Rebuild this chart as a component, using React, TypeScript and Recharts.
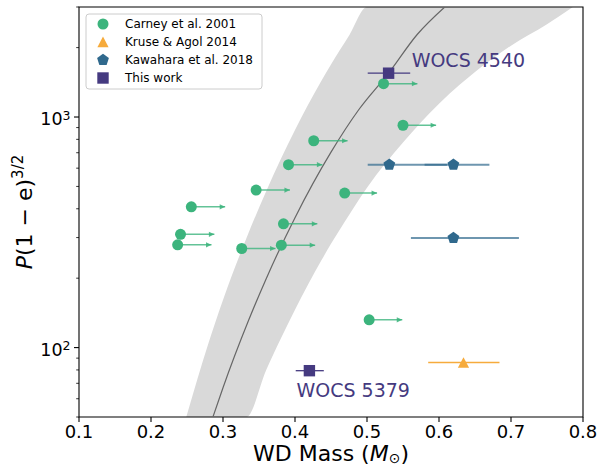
import {
  ComposedChart,
  XAxis,
  YAxis,
  Area,
  Line,
  Scatter,
  ErrorBar,
  ReferenceArea,
} from "recharts";

const FONT = "DejaVu Sans";
const GREEN = "#3cb47d";
const ORANGE = "#f6ab3c";
const BLUE = "#30698d";
const PURPLE = "#453a80";

// Carney et al. 2001 (lower limits, arrow drawn to the right)
const carneyMass = [0.523, 0.55, 0.426, 0.391, 0.346, 0.469, 0.256, 0.384, 0.241, 0.237, 0.326, 0.381, 0.503];
const carneyP = [1395, 921, 789, 621, 482, 468, 408, 344, 310, 279, 269, 278, 132];
const carneyArrowTo = [0.57, 0.596, 0.473, 0.438, 0.393, 0.514, 0.303, 0.431, 0.288, 0.284, 0.373, 0.428, 0.549];

// Kruse & Agol 2014
const kruseMass = [0.634];
const kruseP = [86.1];
const kruseLo = [0.585];
const kruseHi = [0.684];

// Kawahara et al. 2018
const kawaharaMass = [0.531, 0.62, 0.62];
const kawaharaP = [621, 621, 299];
const kawaharaLo = [0.501, 0.58, 0.561];
const kawaharaHi = [0.611, 0.67, 0.711];

// This work
const thisMass = [0.53, 0.42];
const thisP = [1549, 79.4];
const thisLo = [0.501, 0.401];
const thisHi = [0.56, 0.44];
const thisNames = ["WOCS 4540", "WOCS 5379"];
const thisLabelMass = [0.562, 0.402];
const thisLabelP = [1652, 61];

// model relation (grey line)
const modelMass = [0.286, 0.3, 0.335, 0.36, 0.4, 0.45, 0.4885, 0.53, 0.57, 0.608];
const modelP = [50, 67, 130, 199, 366, 704, 1075, 1550, 2285, 3000];

// shaded band around the model
const bandMass = [0.249, 0.28, 0.3, 0.3325, 0.36, 0.38, 0.4, 0.4367, 0.45, 0.476, 0.5, 0.55, 0.6, 0.629, 0.65, 0.7, 0.75, 0.786];
const bandLow = [50, 50, 50, 50, 80, 109, 146, 239, 282, 380, 494, 776, 1142, 1383, 1569, 2039, 2526, 3000];
const bandHigh = [50, 105, 161, 298, 477, 654, 878, 1435, 1690, 2280, 3000, 3000, 3000, 3000, 3000, 3000, 3000, 3000];

const xTicks = [0.1, 0.2, 0.3, 0.4, 0.5, 0.6, 0.7, 0.8];
const yTicks = [50, 60, 70, 80, 90, 100, 200, 300, 400, 500, 600, 700, 800, 900, 1000, 2000, 3000];
const yMajor: Record<number, string> = { 100: "2", 1000: "3" };

const bandRows = bandMass.map((m, i) => ({ x: m, range: [bandLow[i], bandHigh[i]] }));
const modelRows = modelMass.map((m, i) => ({ x: m, y: modelP[i] }));
const carneyRows = carneyMass.map((m, i) => ({ x: m, y: carneyP[i] }));
const arrowRows = carneyMass.flatMap((m, i) => [
  { x: m, y: carneyP[i] },
  { x: carneyArrowTo[i], y: carneyP[i] },
  { x: carneyArrowTo[i], y: null },
]);
const arrowHeadRows = carneyArrowTo.map((m, i) => ({ x: m, y: carneyP[i] }));
const withErr = (mass: number[], p: number[], lo: number[], hi: number[]) =>
  mass.map((m, i) => ({ x: m, y: p[i], ex: [m - lo[i], hi[i] - m] }));
const kruseRows = withErr(kruseMass, kruseP, kruseLo, kruseHi);
const kawaharaRows = withErr(kawaharaMass, kawaharaP, kawaharaLo, kawaharaHi);
const thisRows = withErr(thisMass, thisP, thisLo, thisHi);
const labelRows = thisNames.map((name, i) => ({ x: thisLabelMass[i], y: thisLabelP[i], name }));

const circle = (cx: number, cy: number, fill: string) => <circle cx={cx} cy={cy} r={5.5} fill={fill} />;
const triangle = (cx: number, cy: number, fill: string) => (
  <polygon points={`${cx},${cy - 5.4} ${cx - 5.6},${cy + 5.2} ${cx + 5.6},${cy + 5.2}`} fill={fill} />
);
const pentagon = (cx: number, cy: number, fill: string) => {
  const pts = [0, 1, 2, 3, 4]
    .map((k) => {
      const a = ((-90 + k * 72) * Math.PI) / 180;
      return `${cx + 6.2 * Math.cos(a)},${cy + 6.2 * Math.sin(a)}`;
    })
    .join(" ");
  return <polygon points={pts} fill={fill} />;
};
const square = (cx: number, cy: number, fill: string) => (
  <rect x={cx - 5.7} y={cy - 5.7} width={11.4} height={11.4} fill={fill} />
);

const YTick = ({ x, y, payload }: any) => {
  const exp = yMajor[payload.value];
  return (
    <g>
      <line x1={x} x2={x - (exp ? 5 : 2.8)} y1={y} y2={y} stroke="#000" strokeWidth={exp ? 1.1 : 0.8} />
      {exp && (
        <text x={x - 8.5} y={y + 8} textAnchor="end" fontSize={17.5} fontFamily={FONT} fill="#000">
          10
          <tspan dy={-5.5} fontSize={12.5}>
            {exp}
          </tspan>
        </text>
      )}
    </g>
  );
};

const XTick = ({ x, y, payload }: any) => (
  <g>
    <line x1={x} x2={x} y1={y} y2={y + 5} stroke="#000" strokeWidth={1.1} />
    <text x={x} y={y + 21.3} textAnchor="middle" fontSize={18} fontFamily={FONT} fill="#000">
      {Number(payload.value).toFixed(1)}
    </text>
  </g>
);

const XLabel = (props: any) => {
  const vb = props.viewBox ?? { x: 79, y: 417, width: 504, height: 49 };
  return (
    <text x={vb.x + vb.width / 2} y={vb.y + 43.5} textAnchor="middle" fontSize={22} fontFamily={FONT} fill="#000">
      WD Mass (<tspan fontStyle="italic">M</tspan>
      <tspan fontSize={14} dy={2.5}>⊙</tspan>
      <tspan dy={-2.5}>)</tspan>
    </text>
  );
};

const YLabel = (props: any) => {
  const vb = props.viewBox ?? { x: 0, y: 7, width: 79, height: 410 };
  const x = vb.x + 32;
  const y = vb.y + vb.height / 2;
  return (
    <text
      x={x}
      y={y}
      transform={`rotate(-90 ${x} ${y})`}
      textAnchor="middle"
      fontSize={22}
      fontFamily={FONT}
      fill="#000"
    >
      <tspan fontStyle="italic">P</tspan>(1 − e)
      <tspan dy={-9} fontSize={15}>
        3/2
      </tspan>
    </text>
  );
};

const legendItems = [
  { name: "Carney et al. 2001", draw: circle, color: GREEN },
  { name: "Kruse & Agol 2014", draw: triangle, color: ORANGE },
  { name: "Kawahara et al. 2018", draw: pentagon, color: BLUE },
  { name: "This work", draw: square, color: PURPLE },
];

export default function App() {
  return (
    <div style={{ position: "absolute", left: 0, top: 0, width: 602, height: 466, background: "#fff" }}>
      <ComposedChart width={602} height={466} margin={{ top: 7, right: 19, bottom: 0, left: 0 }}>
        <XAxis
          type="number"
          dataKey="x"
          domain={[0.1, 0.8]}
          ticks={xTicks}
          allowDataOverflow
          axisLine={false}
          tickLine={false}
          tickSize={0}
          tickMargin={0}
          height={49}
          tick={<XTick />}
          label={{ content: XLabel }}
        />
        <YAxis
          type="number"
          dataKey="y"
          scale="log"
          domain={[50, 3000]}
          ticks={yTicks}
          allowDataOverflow
          axisLine={false}
          tickLine={false}
          tickSize={0}
          tickMargin={0}
          width={79}
          interval={0}
          tick={<YTick />}
          label={{ content: YLabel }}
        />
        <Area
          data={bandRows}
          dataKey="range"
          type="monotone"
          fill="#d9d9d9"
          fillOpacity={1}
          stroke="none"
          dot={false}
          activeDot={false}
          isAnimationActive={false}
        />
        <Line
          data={modelRows}
          dataKey="y"
          type="monotone"
          stroke="#666"
          strokeWidth={1.2}
          dot={false}
          activeDot={false}
          isAnimationActive={false}
        />
        <Line
          data={arrowRows}
          dataKey="y"
          type="linear"
          stroke={GREEN}
          strokeOpacity={0.8}
          strokeWidth={1.5}
          dot={false}
          activeDot={false}
          connectNulls={false}
          isAnimationActive={false}
        />
        <Scatter
          data={arrowHeadRows}
          dataKey="y"
          isAnimationActive={false}
          shape={(p: any) => (
            <polygon
              points={`${p.cx},${p.cy} ${p.cx - 5.5},${p.cy - 2.6} ${p.cx - 5.5},${p.cy + 2.6}`}
              fill={GREEN}
              fillOpacity={0.85}
            />
          )}
        />
        <Scatter data={carneyRows} dataKey="y" isAnimationActive={false} shape={(p: any) => circle(p.cx, p.cy, GREEN)} />
        <Scatter data={kruseRows} dataKey="y" isAnimationActive={false} shape={(p: any) => triangle(p.cx, p.cy, ORANGE)}>
          <ErrorBar dataKey="ex" direction="x" width={0} stroke={ORANGE} strokeWidth={1.5} />
        </Scatter>
        <Scatter data={kawaharaRows} dataKey="y" isAnimationActive={false} shape={(p: any) => pentagon(p.cx, p.cy, BLUE)}>
          <ErrorBar dataKey="ex" direction="x" width={0} stroke="rgba(48,105,141,0.7)" strokeWidth={2} />
        </Scatter>
        <Scatter data={thisRows} dataKey="y" isAnimationActive={false} shape={(p: any) => square(p.cx, p.cy, PURPLE)}>
          <ErrorBar dataKey="ex" direction="x" width={0} stroke={PURPLE} strokeWidth={1.3} />
        </Scatter>
        <Scatter
          data={labelRows}
          dataKey="y"
          isAnimationActive={false}
          shape={(p: any) => (
            <text x={p.cx} y={p.cy} fontSize={19} fontFamily={FONT} fill={PURPLE}>
              {p.payload?.name ?? p.name}
            </text>
          )}
        />
        <ReferenceArea x1={0.1} x2={0.8} y1={50} y2={3000} fill="none" stroke="#000" strokeWidth={1.1} ifOverflow="visible" />
      </ComposedChart>
      <svg width={602} height={466} style={{ position: "absolute", left: 0, top: 0, pointerEvents: "none" }}>
        <rect x={86} y={14} width={176} height={75} rx={3} fill="#fff" fillOpacity={0.8} stroke="#ccc" strokeWidth={1} />
        {legendItems.map((it, i) => {
          const cy = 24 + i * 18;
          return (
            <g key={it.name}>
              {it.draw(103, cy, it.color)}
              <text x={125} y={cy + 4.3} fontSize={12} fontFamily={FONT} fill="#000">
                {it.name}
              </text>
            </g>
          );
        })}
      </svg>
    </div>
  );
}
